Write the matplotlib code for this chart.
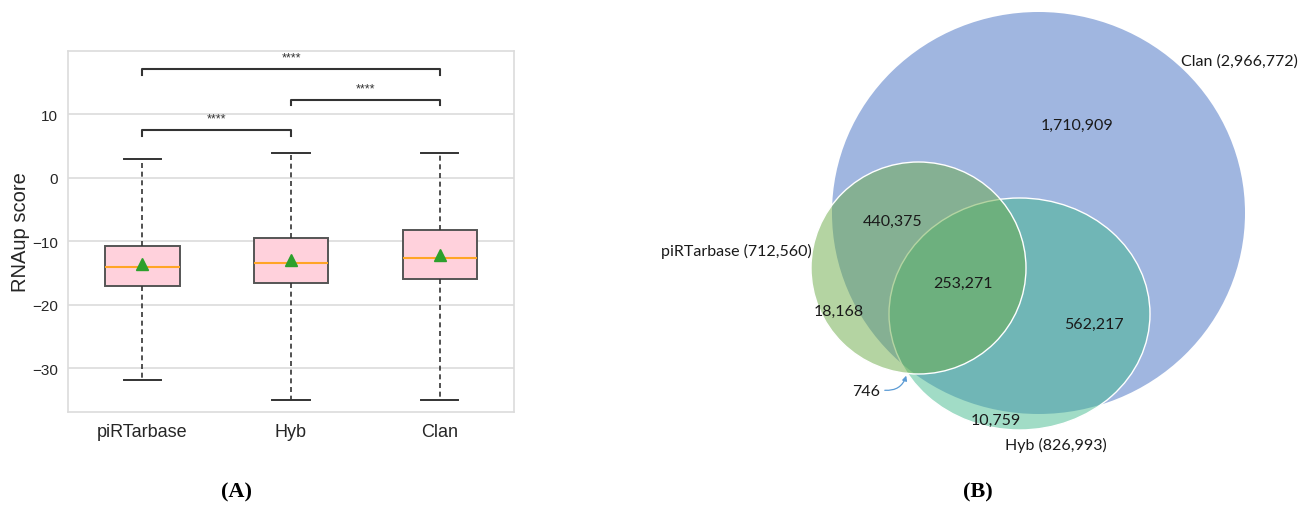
' Box plot of RNAup scores per source, next to the overlap of the three sources. '

import matplotlib
matplotlib.use('Agg')
import matplotlib.pyplot as plt
from matplotlib.patches import Ellipse, FancyArrowPatch

# RNAup score summaries for each source
GROUPS = ['piRTarbase', 'Hyb', 'Clan']
WHISKER_LOW = [-31.9, -35.0, -35.0]
Q1 = [-17.0, -16.6, -16.0]
MEDIAN = [-14.0, -13.4, -12.6]
MEAN = [-13.6, -12.9, -12.2]
Q3 = [-10.7, -9.5, -8.2]
WHISKER_HIGH = [2.9, 3.9, 3.9]
Y_TICKS = [-30, -20, -10, 0, 10]

# significance tests between sources
PAIRS = [(0, 1), (1, 2), (0, 2)]
PAIR_LABELS = ['****', '****', '****']

# interaction counts per source and per overlap region
SET_NAMES = ['piRTarbase', 'Hyb', 'Clan']
SET_TOTALS = [712560, 826993, 2966772]
REGIONS = ['p', 'h', 'c', 'ph', 'pc', 'hc', 'phc']
REGION_COUNTS = [18168, 10759, 1710909, 746, 440375, 562217, 253271]

GRID = '#dcdcdc'
DARK = '#333333'


def draw_boxes(ax):
    ' Box plot with brackets on top '
    stats = []
    for i, name in enumerate(GROUPS):
        stats.append({'label': name, 'whislo': WHISKER_LOW[i], 'q1': Q1[i],
                      'med': MEDIAN[i], 'q3': Q3[i], 'whishi': WHISKER_HIGH[i],
                      'mean': MEAN[i], 'fliers': []})
    ax.bxp(stats, positions=range(len(GROUPS)), widths=0.5, patch_artist=True,
           showmeans=True, showfliers=False,
           boxprops=dict(facecolor='#ffd1dc', edgecolor='#555555', linewidth=1.4),
           medianprops=dict(color='#ffa526', linewidth=1.5),
           whiskerprops=dict(color=DARK, linewidth=1.2, linestyle=(0, (3, 2.2))),
           capprops=dict(color=DARK, linewidth=1.4),
           meanprops=dict(marker='^', markerfacecolor='#2ca02c',
                          markeredgecolor='#2ca02c', markersize=8))

    top = max(WHISKER_HIGH)
    for level, ((a, b), label) in enumerate(zip(PAIRS, PAIR_LABELS)):
        y = top + 3.6 + level * 4.8
        ax.plot([a, a, b, b], [y - 0.85, y, y, y - 0.85], color=DARK, linewidth=1.5)
        ax.text((a + b) / 2, y + 0.9, label, ha='center', va='bottom',
                fontsize=9, color=DARK)

    ax.set_xlim(-0.5, 2.5)
    ax.set_ylim(-36.9, 20)
    ax.set_yticks(Y_TICKS)
    ax.set_yticklabels([f'{t:g}'.replace('-', '\u2212') for t in Y_TICKS])
    ax.set_ylabel('RNAup score', fontsize=14.5, color='#262626', labelpad=2)
    ax.yaxis.grid(True, color=GRID, linewidth=1.2)
    ax.xaxis.grid(False)
    ax.set_axisbelow(True)
    for spine in ax.spines.values():
        spine.set_color(GRID)
        spine.set_linewidth(1.2)
    ax.tick_params(axis='both', length=0, colors='#262626')
    ax.tick_params(axis='x', labelsize=13, pad=8)
    ax.tick_params(axis='y', labelsize=11, pad=7)


def draw_venn(ax):
    ' Three overlapping ellipses, labelled by region '
    # layout of each set: centre x, centre y, width, height, colour
    shapes = {
        'Clan': (398.5, 214, 413, 402, (0.627, 0.714, 0.878, 1.0)),
        'Hyb': (379.5, 315, 261, 232, (0.247, 0.722, 0.545, 0.49)),
        'piRTarbase': (278.5, 269, 215, 212, (0.42, 0.67, 0.28, 0.5)),
    }
    for name in ['Clan', 'Hyb', 'piRTarbase']:
        cx, cy, w, h, colour = shapes[name]
        edge = 'none' if name == 'Clan' else 'white'
        ax.add_patch(Ellipse((cx, cy), w, h, facecolor=colour, edgecolor=edge,
                             linewidth=1.0))

    counts = dict(zip(REGIONS, REGION_COUNTS))
    spots = {'c': (437, 126), 'pc': (253, 222), 'phc': (323, 284),
             'hc': (454, 325), 'p': (199, 312), 'ph': (226, 392), 'h': (356, 421)}
    font = dict(fontsize=11.5, family='Lato', color='#1a1a1a')
    for key, (x, y) in spots.items():
        ax.text(x, y, f'{counts[key]:,}', ha='center', va='center', **font)

    totals = dict(zip(SET_NAMES, SET_TOTALS))
    ax.text(541, 62, f'Clan ({totals["Clan"]:,})', ha='left', va='center', **font)
    ax.text(172, 251, f'piRTarbase ({totals["piRTarbase"]:,})', ha='right',
            va='center', **font)
    ax.text(365, 445, f'Hyb ({totals["Hyb"]:,})', ha='left', va='center', **font)

    ax.add_patch(FancyArrowPatch((242, 391), (267, 374), arrowstyle='-|>',
                                 mutation_scale=7, color='#5b9bd5', linewidth=0.9,
                                 connectionstyle='arc3,rad=0.45'))

    ax.set_xlim(0, 659)
    ax.set_ylim(506, 0)
    ax.set_aspect('equal')
    ax.axis('off')


def main():
    ' duh '
    plt.rcParams['font.family'] = ['Liberation Sans', 'DejaVu Sans']
    fig = plt.figure(figsize=(12.99, 5.06), dpi=100)

    ax_box = fig.add_axes([68 / 1299, 93 / 506, 446 / 1299, 361 / 506])
    draw_boxes(ax_box)

    ax_venn = fig.add_axes([640 / 1299, 0, 659 / 1299, 1])
    draw_venn(ax_venn)

    panel = dict(fontsize=16, fontweight='bold', family='Liberation Serif',
                 ha='center', va='center')
    fig.text(237 / 1299, 1 - 492 / 506, '(A)', **panel)
    fig.text(978 / 1299, 1 - 492 / 506, '(B)', **panel)

    fig.savefig('out.png', dpi=100)


if __name__ == '__main__':
    main()
